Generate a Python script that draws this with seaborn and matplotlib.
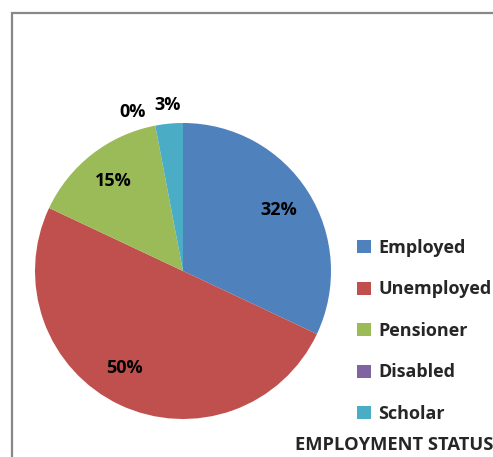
import matplotlib
matplotlib.use("Agg")
import matplotlib.pyplot as plt
from matplotlib.patches import Rectangle, Patch
import numpy as np
import seaborn as sns

categories = ["Employed", "Unemployed", "Pensioner", "Disabled", "Scholar"]
shares = [32, 50, 15, 0, 3]
colors = ["#4F81BD", "#C0504D", "#9BBB59", "#8064A2", "#4BACC6"]
title = "EMPLOYMENT STATUS"

sns.set_theme(style="white")
plt.rcParams["font.family"] = ["Open Sans", "DejaVu Sans"]

W, H = 493, 457
fig = plt.figure(figsize=(W / 100, H / 100), dpi=100)

# pie area: centre (183, 271) px, radius 148 px
cx, cy, r = 183, 271, 148
ax = fig.add_axes([(cx - r) / W, (H - cy - r) / H, 2 * r / W, 2 * r / H])
wedges, _ = ax.pie(shares, colors=colors, startangle=90, counterclock=False,
                   radius=1.0, wedgeprops=dict(linewidth=0))
ax.set_xlim(-1, 1)
ax.set_ylim(-1, 1)
ax.set_aspect("equal")
ax.axis("off")

# percentage labels: inside for larger slices, outside above for tiny ones
nudge = {"Unemployed": -6, "Disabled": 7}
for w, name, val in zip(wedges, categories, shares):
    mid = np.deg2rad((w.theta1 + w.theta2) / 2 + nudge.get(name, 0))
    dist = 0.77 if val >= 5 else 1.125
    ax.text(dist * np.cos(mid), dist * np.sin(mid), f"{val}%",
            ha="center", va="center", fontsize=13, fontweight="bold",
            color="black", clip_on=False)

handles = [Patch(facecolor=c, edgecolor="none") for c in colors]
fig.legend(handles, categories, loc="upper left",
           bbox_to_anchor=(357 / W, 1 - 239 / H), frameon=False,
           prop=dict(size=13, weight="bold"), handlelength=0.75,
           handleheight=0.75, handletextpad=0.42, labelspacing=1.3,
           borderpad=0, borderaxespad=0)

fig.text(295 / W, 1 - 445 / H, title, ha="left", va="center",
         fontsize=13.2, fontweight="bold")

fig.patches.append(Rectangle((12 / W, -0.1), 1.0, 1 - 13 / H + 0.1,
                             transform=fig.transFigure, fill=False,
                             edgecolor="#888888", linewidth=1.6))

fig.savefig("out.png", dpi=100)
